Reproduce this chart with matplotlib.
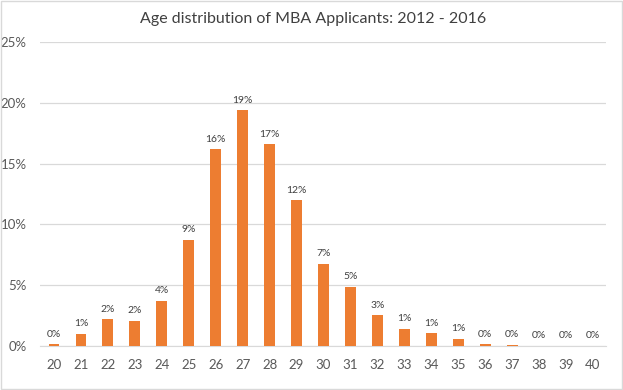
import matplotlib
matplotlib.use("Agg")
import matplotlib.pyplot as plt
from matplotlib.patches import Rectangle
import numpy as np

ages = [str(a) for a in range(20, 41)]
share = [0.16, 0.99, 2.22, 2.06, 3.73, 8.73, 16.2, 19.4, 16.6, 12.0, 6.77,
         4.86, 2.52, 1.43, 1.04, 0.60, 0.16, 0.10, 0.02, 0.02, 0.02]
yticks = [0, 5, 10, 15, 20, 25]

ORANGE = "#ED7D31"; GRID = "#D9D9D9"; TICK = "#595959"; LABEL = "#404040"
plt.rcParams["font.family"] = ["Lato", "DejaVu Sans"]

fig = plt.figure(figsize=(6.23, 3.9), dpi=100)
ax = fig.add_axes([0.065, 0.1128, 0.9085, 0.7795])

x = np.arange(len(ages))
ax.bar(x, share, width=0.4, color=ORANGE, zorder=3)
for xi, v in zip(x, share):
    ax.text(xi, v + 0.45, f"{v:.0f}%", ha="center", va="bottom", fontsize=7.5, color=LABEL)

ax.set_xlim(-0.5, len(ages) - 0.5)
ax.set_ylim(0, 25)
ax.set_yticks(yticks)
ax.set_yticklabels([f"{t}%" for t in yticks])
ax.set_xticks(x)
ax.set_xticklabels(ages)
ax.tick_params(axis="both", length=0, labelsize=9.5, labelcolor=TICK)
ax.tick_params(axis="y", pad=10)
ax.tick_params(axis="x", pad=9)
ax.grid(axis="y", color=GRID, lw=0.9, zorder=0)
for s in ["top", "right", "left"]:
    ax.spines[s].set_visible(False)
ax.spines["bottom"].set_color(GRID)

fig.text(0.503, 0.952, "Age distribution of MBA Applicants: 2012 - 2016",
         ha="center", va="center", fontsize=11.5, color="#404040")
fig.patches.append(Rectangle((0.002, 0.003), 0.996, 0.994, transform=fig.transFigure,
                             fill=False, edgecolor=GRID, lw=1))

fig.savefig("out.png", dpi=100)
